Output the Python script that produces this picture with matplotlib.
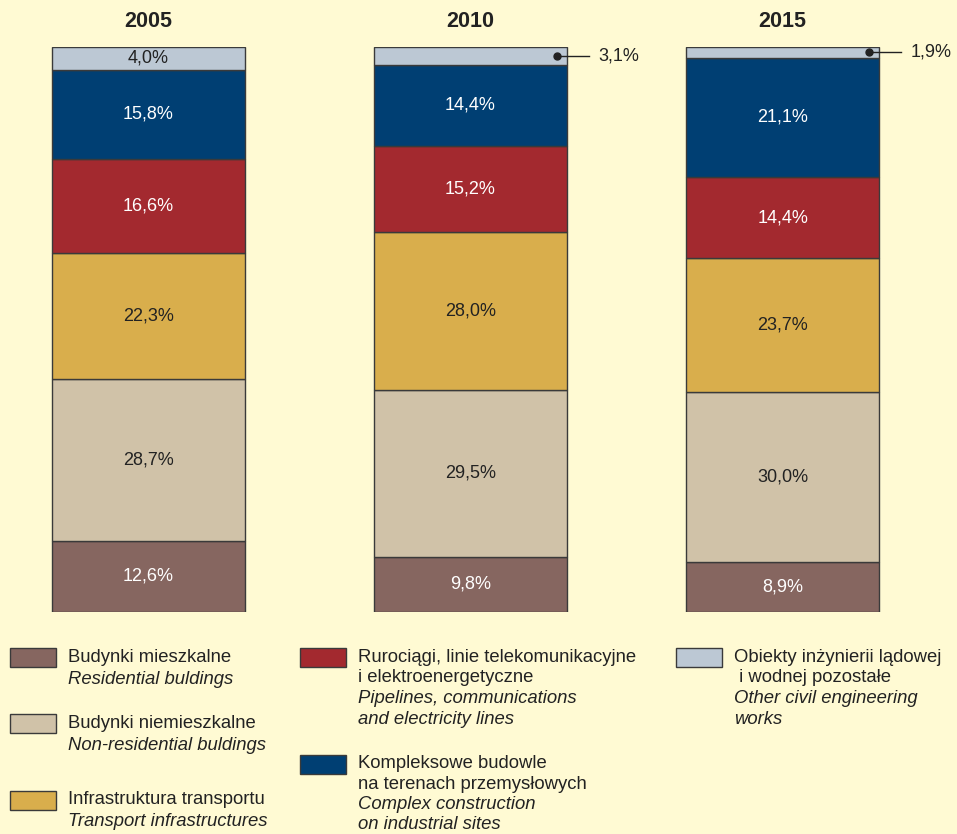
import matplotlib
matplotlib.use("Agg")
import matplotlib.pyplot as plt
from matplotlib.patches import Rectangle

plt.rcParams['font.family'] = ['Liberation Sans', 'DejaVu Sans']

years = ["2005", "2010", "2015"]
residential = [12.6, 9.8, 8.9]
non_residential = [28.7, 29.5, 30.0]
transport = [22.3, 28.0, 23.7]
pipelines = [16.6, 15.2, 14.4]
industrial = [15.8, 14.4, 21.1]
other = [4.0, 3.1, 1.9]

series = [residential, non_residential, transport, pipelines, industrial, other]
colors = ["#866660", "#d0c2a8", "#d9ae4c", "#a3292f", "#003f73", "#bcc8d4"]
text_colors = ["white", "#222222", "#222222", "white", "white", "#222222"]

legend_pl = [["Budynki mieszkalne"],
             ["Budynki niemieszkalne"],
             ["Infrastruktura transportu"],
             ["Rurociągi, linie telekomunikacyjne", "i elektroenergetyczne"],
             ["Kompleksowe budowle", "na terenach przemysłowych"],
             ["Obiekty inżynierii lądowej", " i wodnej pozostałe"]]
legend_en = [["Residential buldings"],
             ["Non-residential buldings"],
             ["Transport infrastructures"],
             ["Pipelines, communications", "and electricity lines"],
             ["Complex construction", "on industrial sites"],
             ["Other civil engineering", "works"]]

W, H = 957, 834
bg = "#fffad3"
fig = plt.figure(figsize=(W / 100, H / 100), dpi=100, facecolor=bg)
ax = fig.add_axes([0.006, 1 - 612 / H, 0.994, 565 / H])
ax.set_facecolor(bg)
ax.patch.set_alpha(0)

x = [0, 1.015, 2]   # bar positions (middle bar sits a bit to the right)
width = 0.608
bottom = [0.0] * len(years)
for vals, col, tc in zip(series, colors, text_colors):
    ax.bar(x, vals, width, bottom=bottom, color=col, edgecolor="#3a3a3a", linewidth=1.0)
    for i, v in enumerate(vals):
        lab = f"{v:.1f}".replace(".", ",") + "%"
        yc = bottom[i] + v / 2
        if v < 3.5:
            right = x[i] + width / 2
            ax.plot([right - 0.03, right + 0.07], [yc, yc], color="#222222", lw=1.0, clip_on=False)
            ax.plot(right - 0.03, yc, "o", color="#222222", ms=5, clip_on=False)
            ax.text(right + 0.1, yc, lab, ha="left", va="center",
                    fontsize=13, color="#222222", clip_on=False)
        else:
            ax.text(x[i], yc, lab, ha="center", va="center", fontsize=13, color=tc)
    bottom = [b + v for b, v in zip(bottom, vals)]

for i, yr in enumerate(years):
    ax.text(x[i], 104.5, yr, ha="center", va="center", fontsize=15.5,
            fontweight="bold", color="#222222", clip_on=False)

ax.set_xlim(-0.45, 2.55)
ax.set_ylim(0, 100)
ax.axis("off")

# legend, laid out in three columns
cols_x = [10, 300, 676]
slots = [(0, 648), (0, 714), (0, 791), (1, 648), (1, 755), (2, 648)]
spacing = [23, 23, 22, 20.7, 20.3, 20.7]
for k, (c, ytop) in enumerate(slots):
    px = cols_x[c]
    fig.add_artist(Rectangle((px / W, 1 - (ytop + 19) / H), 46 / W, 19 / H,
                             transform=fig.transFigure, facecolor=colors[k],
                             edgecolor="#3a3a3a", linewidth=1.0))
    ty = ytop + 9
    for line in legend_pl[k]:
        fig.text((px + 58) / W, 1 - ty / H, line, ha="left", va="center",
                 fontsize=13.3, color="#222222")
        ty += spacing[k]
    for line in legend_en[k]:
        fig.text((px + 58) / W, 1 - ty / H, line, ha="left", va="center",
                 fontsize=13.3, style="italic", color="#222222")
        ty += spacing[k]

fig.savefig("out.png", dpi=100, facecolor=bg)
